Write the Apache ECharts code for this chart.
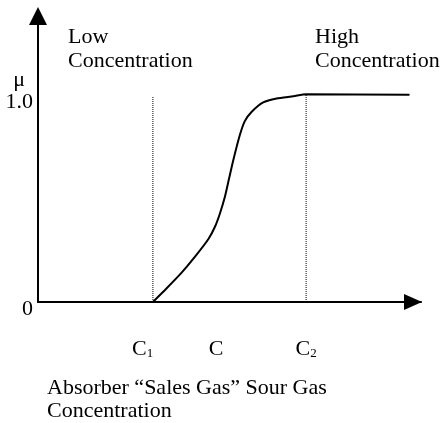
<!DOCTYPE html>
<html>
<head>
<meta charset="utf-8">
<script src="https://cdn.jsdelivr.net/npm/echarts@6/dist/echarts.min.js"></script>
<style>
  html, body { margin: 0; padding: 0; background: #fff; }
  #chart { width: 446px; height: 423px; }
</style>
</head>
<body>
<div id="chart"></div>
<script>
// membership curve (x in arbitrary concentration units)
const curveX = [3.0, 3.36, 3.75, 4.10, 4.45, 4.62, 4.75, 4.88, 4.99, 5.10, 5.27, 5.40, 5.58, 5.88, 6.23, 6.67, 7.0, 9.7];
const curveY = [0, 0.066, 0.141, 0.218, 0.303, 0.362, 0.426, 0.506, 0.595, 0.683, 0.803, 0.870, 0.915, 0.960, 0.979, 0.990, 1.0, 0.997];

// dotted guides at C1 and C2
const guideX = [3, 7];
const guideTop = [0.986, 1.0];

// tick labels
const xTickValues = [2.73, 4.65, 7.0];
const xTickMain = ['C', 'C', 'C'];
const xTickSub = ['1', '', '2'];
const yTickValues = [0, 1];
const yTickLabels = ['0', '1.0'];
const yName = 'μ';

const font = 'Liberation Serif';
const chart = echarts.init(document.getElementById('chart'));

// nearest entry, customValues may come back as slightly different floats
function tickIndex(list, v) {
  let best = 0;
  list.forEach((t, i) => { if (Math.abs(t - v) < Math.abs(list[best] - v)) best = i; });
  return best;
}

const guides = guideX.map((x, i) => ({
  type: 'line',
  data: [[x, 0], [x, guideTop[i]]],
  symbol: 'none',
  silent: true,
  lineStyle: { color: '#000', width: 1, type: 'dotted' },
  z: 1
}));

const titleStyle = { fontFamily: font, fontSize: 22, fontWeight: 'normal', color: '#000', lineHeight: 24 };

chart.setOption({
  animation: false,
  title: [
    { text: 'Low\nConcentration', left: 68, top: 25, padding: 0, textStyle: titleStyle },
    { text: 'High\nConcentration', left: 315, top: 25, padding: 0, textStyle: titleStyle },
    { text: 'Absorber \u201cSales Gas\u201d Sour Gas\nConcentration', left: 47, top: 377, padding: 0,
      textStyle: Object.assign({}, titleStyle, { lineHeight: 23 }) }
  ],
  grid: { left: 38, right: 25, top: 11, bottom: 121 },
  xAxis: {
    type: 'value',
    min: 0,
    max: 10,
    splitLine: { show: false },
    axisTick: { show: false },
    axisLine: {
      lineStyle: { color: '#000', width: 2 },
      symbol: ['none', 'triangle'],
      symbolSize: [16, 18],
      symbolOffset: [0, -8]
    },
    axisLabel: {
      customValues: xTickValues,
      margin: 36,
      formatter: (v) => {
        const i = tickIndex(xTickValues, v);
        return '{c|' + xTickMain[i] + '}' + (xTickSub[i] ? '{s|' + xTickSub[i] + '}' : '');
      },
      rich: {
        c: { fontFamily: font, fontSize: 22, color: '#000', lineHeight: 22 },
        s: { fontFamily: font, fontSize: 13, color: '#000', lineHeight: 16, verticalAlign: 'bottom' }
      }
    }
  },
  yAxis: {
    type: 'value',
    min: 0,
    max: 1.4,
    splitLine: { show: false },
    axisTick: { show: false },
    axisLine: {
      lineStyle: { color: '#000', width: 2 },
      symbol: ['none', 'triangle'],
      symbolSize: [18, 18],
      symbolOffset: [0, -5]
    },
    axisLabel: {
      customValues: yTickValues,
      margin: 5,
      formatter: (v) => {
        const i = tickIndex(yTickValues, v);
        return i === 0 ? '{z|' + yTickLabels[i] + '}' : '{m|' + yName + '}\n{v|' + yTickLabels[i] + '}';
      },
      rich: {
        z: { fontFamily: font, fontSize: 22, color: '#000', lineHeight: 22, padding: [15, 0, 0, 0] },
        m: { fontFamily: font, fontSize: 22, color: '#000', lineHeight: 16, padding: [0, 0, 6, 0], align: 'center' },
        v: { fontFamily: font, fontSize: 22, color: '#000', lineHeight: 22 }
      }
    }
  },
  series: guides.concat([{
    type: 'line',
    data: curveX.map((x, i) => [x, curveY[i]]),
    symbol: 'none',
    smooth: 0.2,
    lineStyle: { color: '#000', width: 2 },
    z: 3
  }])
});
</script>
</body>
</html>
